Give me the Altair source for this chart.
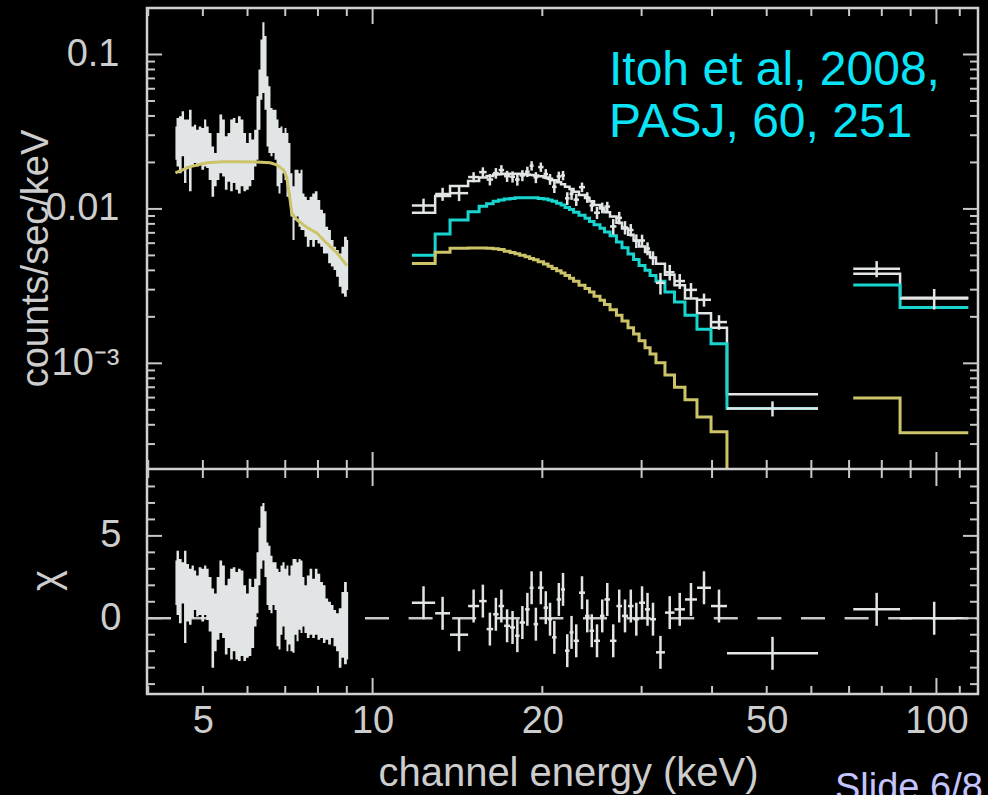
import altair as alt
import pandas as pd

# ---------------- data ----------------
# XIS spectrum (dense data band), keV / counts/sec/keV
xis_e = [4.47, 4.51, 4.56, 4.61, 4.65, 4.70, 4.75, 4.80, 4.84, 4.89,
         4.94, 5.00, 5.05, 5.09, 5.15, 5.21, 5.26, 5.32, 5.38, 5.44,
         5.50, 5.56, 5.62, 5.68, 5.74, 5.80, 5.87, 5.93, 6.00, 6.06,
         6.13, 6.20, 6.25, 6.30, 6.35, 6.40, 6.46, 6.51, 6.56, 6.62,
         6.67, 6.73, 6.78, 6.84, 6.89, 6.95, 7.01, 7.06, 7.12, 7.18,
         7.24, 7.30, 7.36, 7.42, 7.48, 7.54, 7.60, 7.69, 7.77, 7.86,
         7.94, 8.03, 8.12, 8.21, 8.29, 8.39, 8.48, 8.57, 8.66, 8.76,
         8.85, 8.95, 9.05]
xis_hi = [0.0342, 0.0388, 0.0398, 0.0429, 0.0379, 0.0379, 0.0439, 0.0342, 0.0351, 0.0326,
          0.0342, 0.0334, 0.0379, 0.0342, 0.0310, 0.0254, 0.0230, 0.0310, 0.0408, 0.0379,
          0.0295, 0.0310, 0.0379, 0.0388, 0.0360, 0.0398, 0.0379, 0.0310, 0.0267, 0.0310,
          0.0281, 0.0326, 0.0536, 0.080, 0.125, 0.162, 0.1315, 0.0723, 0.0622, 0.0451,
          0.0439, 0.0439, 0.0379, 0.0334, 0.0342, 0.0310, 0.0334, 0.0310, 0.0267, 0.0170,
          0.0140, 0.0179, 0.0179, 0.0170, 0.0179, 0.0126, 0.0120, 0.0114, 0.0120, 0.0126,
          0.0130, 0.0114, 0.00986, 0.00938, 0.00767, 0.00731, 0.00629, 0.00569, 0.00542, 0.00515,
          0.00569, 0.00661, 0.00629]
xis_lo = [0.0208, 0.0188, 0.0170, 0.0219, 0.0147, 0.0188, 0.0130, 0.0188, 0.0198, 0.0188,
          0.0193, 0.0179, 0.0188, 0.0184, 0.0154, 0.0120, 0.0140, 0.0154, 0.0170, 0.0162,
          0.0133, 0.0150, 0.0130, 0.0147, 0.0133, 0.0126, 0.0140, 0.0130, 0.0133, 0.0140,
          0.0154, 0.0188, 0.0208, 0.0326, 0.0510, 0.0564, 0.0439, 0.0254, 0.0230, 0.0219,
          0.0230, 0.0208, 0.0140, 0.0126, 0.0147, 0.0170, 0.0154, 0.0120, 0.0126, 0.00892,
          0.00629, 0.00849, 0.00892, 0.00767, 0.00731, 0.00731, 0.00661, 0.00569, 0.00629, 0.00569,
          0.00629, 0.00598, 0.00569, 0.00515, 0.00515, 0.00444, 0.00423, 0.00402, 0.00364, 0.00313,
          0.00283, 0.00270, 0.00298]
xis_chi_hi = [3.5, 4.1, 3.6, 3.4, 4.1, 3.3, 3.0, 3.2, 2.9, 2.6,
              3.1, 3.0, 3.2, 3.0, 2.5, 1.8, 1.5, 2.5, 3.5, 3.2,
              2.0, 2.4, 3.0, 3.1, 2.8, 3.0, 2.9, 2.0, 1.5, 2.4,
              1.9, 2.4, 4.0, 5.5, 6.8, 7.0, 6.5, 4.6, 4.4, 3.8,
              3.4, 3.4, 3.0, 2.8, 3.2, 3.4, 3.0, 3.2, 2.6, 3.2,
              3.6, 3.6, 3.4, 3.6, 3.5, 2.5, 2.0, 2.6, 3.0, 2.4,
              3.0, 2.7, 2.2, 2.0, 1.2, 1.0, 0.8, 0.5, 0.3, 0.6,
              1.6, 2.2, 1.6]
xis_chi_lo = [0.8, 0.2, -0.3, 0.9, -1.5, -0.2, -0.4, 0.0, 0.5, 0.1,
              0.2, -0.2, 0.2, -0.1, -0.8, -3.0, -2.0, -1.3, -0.9, -1.2,
              -2.2, -1.8, -2.5, -2.0, -2.5, -2.6, -2.3, -2.6, -2.4, -2.3,
              -1.8, -0.5, 0.3, 2.0, 3.0, 3.5, 2.5, 0.8, 0.5, 0.3,
              0.8, 0.5, -1.7, -1.9, -1.0, -0.5, -1.3, -2.0, -1.6, -2.0,
              -2.1, -1.0, -1.4, -0.7, -0.9, -0.5, -0.9, -1.2, -1.0, -1.2,
              -1.0, -1.3, -1.2, -1.5, -1.3, -1.6, -1.2, -1.7, -2.0, -3.0,
              -2.4, -2.8, -2.5]
xis_model_e = [4.47, 4.75, 5.09, 5.43, 5.82, 6.23, 6.58, 6.76, 6.95, 7.04,
               7.14, 7.19, 7.34, 7.64, 7.96, 8.29, 8.64, 9.00]
xis_model = [0.0171, 0.0188, 0.0199, 0.0202, 0.0202, 0.0201, 0.0199, 0.0193, 0.0179, 0.0161,
             0.0114, 0.0094, 0.0085, 0.0076, 0.0070, 0.0060, 0.0052, 0.0043]

# HXD-PIN bins (edges in keV)
pin_edges = [11.74, 12.91, 13.72, 14.77, 15.45, 15.93, 16.36, 16.73, 17.11, 17.53,
             17.89, 18.23, 18.64, 18.99, 19.30, 19.66, 20.10, 20.47, 20.81, 21.20,
             21.59, 21.94, 22.35, 22.72, 23.23, 23.81, 24.25, 24.70, 25.31, 25.78,
             26.37, 27.07, 27.69, 28.38, 29.03, 29.69, 30.42, 31.05, 31.81, 33.00,
             34.31, 35.81, 37.61, 39.83, 42.51, 61.66]
pin_cyan = [0.00502, 0.00689, 0.00849, 0.0096, 0.0104, 0.0108, 0.0112, 0.0114, 0.0116, 0.0117,
            0.0118, 0.0118, 0.0118, 0.0118, 0.0118, 0.0117, 0.0116, 0.0114, 0.0112, 0.0109,
            0.0106, 0.0102, 0.0099, 0.0095, 0.0091, 0.0087, 0.0083, 0.0079, 0.0075, 0.0071,
            0.0067, 0.0061, 0.0056, 0.0051, 0.0047, 0.0043, 0.0040, 0.0037, 0.0034, 0.0029,
            0.0025, 0.00205, 0.00166, 0.00134, 0.00051]
pin_yellow = [0.00443, 0.00524, 0.00556, 0.00558, 0.00558, 0.00556, 0.00552, 0.00545, 0.00532, 0.00522,
              0.00512, 0.00502, 0.00490, 0.00478, 0.00468, 0.00455, 0.00440, 0.00425, 0.00412, 0.00398,
              0.00385, 0.00370, 0.00355, 0.00340, 0.00320, 0.00305, 0.00290, 0.00272, 0.00256, 0.00240,
              0.00222, 0.00205, 0.00188, 0.00170, 0.00155, 0.00140, 0.00126, 0.00115, 0.00101, 0.00084,
              0.00070, 0.00058, 0.00045, 0.00036, 0.00012]
pin_data = [0.01052, 0.01249, 0.01265, 0.01608, 0.01731, 0.01549, 0.01704, 0.01785, 0.01630, 0.01616,
            0.01549, 0.01647, 0.01742, 0.01903, 0.01600, 0.01866, 0.01682, 0.01557, 0.01390, 0.01623,
            0.01647, 0.01171, 0.01252, 0.01148, 0.01383, 0.01188, 0.01052, 0.00945, 0.01017, 0.01036,
            0.0077, 0.00875, 0.00758, 0.0073, 0.00621, 0.00624, 0.00554, 0.00482, 0.00332, 0.00389,
            0.00341, 0.00299, 0.00258, 0.00185, 0.00051]
pin_err = [0.00113, 0.00121, 0.00141, 0.00121, 0.00128, 0.00131, 0.00134, 0.00135, 0.00135, 0.00135,
           0.00135, 0.00135, 0.00134, 0.00133, 0.00132, 0.0013, 0.00128, 0.00125, 0.00123, 0.00119,
           0.00116, 0.00111, 0.00108, 0.00103, 0.00098, 0.00094, 0.0009, 0.00085, 0.0008, 0.00076,
           0.00089, 0.00082, 0.00075, 0.00068, 0.00063, 0.00057, 0.00053, 0.00049, 0.00053, 0.00045,
           0.00038, 0.00032, 0.00025, 0.0002, 0.000057]
pin_chi = [0.94, 0.30, -1.00, 0.74, 1.04, -0.66, 0.24, 0.74, -0.46, -0.56,
           -1.06, -0.26, 0.54, 1.85, -0.36, 1.85, 0.64, -0.06, -1.16, 1.14,
           1.75, -1.97, -0.86, -1.37, 1.55, 0.14, -0.76, -1.37, 0.14, 1.14,
           -1.37, 0.74, 0.14, 0.74, -0.06, 0.94, 0.54, -0.06, -2.07, 0.34,
           0.54, 1.14, 1.85, 0.74, -2.13]

# HXD-GSO bins
gso_edges = [71.2, 86.2, 113.9]
gso_cyan = [0.00321, 0.00230]
gso_yellow = [0.000596, 0.000355]
gso_data = [0.0041, 0.00263]
gso_err = [0.00049, 0.00040]
gso_chi = [0.54, 0.0]

# axis ticks / labels
x_labels = [5, 10, 20, 50, 100]
x_major = [10, 100]
x_minor = [4, 5, 6, 7, 8, 9, 20, 30, 40, 50, 60, 70, 80, 90, 110]
y_top_labels = [0.1, 0.01, 0.001]
y_top_major = [0.001, 0.01, 0.1]
y_top_minor = [0.0003, 0.0004, 0.0005, 0.0006, 0.0007, 0.0008, 0.0009,
               0.002, 0.003, 0.004, 0.005, 0.006, 0.007, 0.008, 0.009,
               0.02, 0.03, 0.04, 0.05, 0.06, 0.07, 0.08, 0.09]
y_bot_labels = [0, 5]
y_bot_major = [0, 5]
y_bot_minor = [-4, -3, -2, -1, 1, 2, 3, 4, 6, 7, 8]

# ---------------- layout / style ----------------
W, H = 831, 686
TOP_H = 460
BOT_TOP = 462
YMIN, YMAX = 2.1e-4, 0.2
FONT = "Liberation Sans"
LBL = "#cdcdcd"
WHITE = "#e2e5e5"
CYAN = "#18d6cf"
YEL = "#cdc46a"
TICK = "#c8c8c8"
FRAME = "#d0d0d0"

xs = alt.Scale(type="log", domain=[3.98, 118.5], nice=False)
yt = alt.Scale(type="log", domain=[YMIN, YMAX], range=[TOP_H, 0], nice=False, clamp=True)
yb = alt.Scale(type="linear", domain=[-4.6, 9.0], range=[H, BOT_TOP], nice=False, zero=False)

x_axis = alt.Axis(orient="bottom", values=x_labels, format="d", ticks=False, domain=False,
                  grid=False, labelFontSize=38, labelFont=FONT, labelColor=LBL, labelPadding=8,
                  labelFlush=False, labelOverlap=False,
                  title="channel energy (keV)", titleFont=FONT, titleFontSize=40,
                  titleFontWeight="normal", titleColor=LBL, titleX=421, titleY=91,
                  titleAlign="center", titleBaseline="alphabetic")
y_top_axis = alt.Axis(orient="left", values=y_top_labels,
                      labelExpr="datum.value > 0.05 ? '0.1' : (datum.value > 0.005 ? '0.01' : '10⁻³')",
                      ticks=False, domain=False, grid=False, labelFontSize=38, labelFont=FONT,
                      labelColor=LBL, labelPadding=28, labelOverlap=False, labelFlush=False,
                      title="counts/sec/keV", titleFont=FONT, titleFontSize=38,
                      titleFontWeight="normal", titleColor=LBL, titleX=-111, titleY=250,
                      titleAngle=270, titleAlign="center", titleBaseline="middle")
y_bot_axis = alt.Axis(orient="left", values=y_bot_labels, ticks=False, domain=False, grid=False,
                      labelFontSize=38, labelFont=FONT, labelColor=LBL, labelPadding=26,
                      labelOverlap=False, labelFlush=False,
                      title="χ", titleFont=FONT, titleFontSize=40, titleFontWeight="normal",
                      titleColor=LBL, titleX=-101, titleY=572, titleAngle=270,
                      titleAlign="center", titleBaseline="middle")


def X(field):
    return alt.X(field, type="quantitative", scale=xs, axis=x_axis)


def YT(field):
    return alt.Y(field, type="quantitative", scale=yt, axis=y_top_axis)


def YB(field):
    return alt.Y(field, type="quantitative", scale=yb, axis=y_bot_axis)


# ---------------- tables ----------------
xis_df = pd.DataFrame(dict(E=xis_e, hi=xis_hi, lo=xis_lo, chi_hi=xis_chi_hi, chi_lo=xis_chi_lo))
xis_model_df = pd.DataFrame(dict(E=xis_model_e, v=xis_model))

pin_total = [c + y for c, y in zip(pin_cyan, pin_yellow)]
gso_total = [c + y for c, y in zip(gso_cyan, gso_yellow)]

rows = []


def add_steps(edges, vals, comp, grp, close=True):
    for i, v in enumerate(vals):
        rows.append(dict(E=edges[i], v=v, comp=comp, grp=grp))
    if close:
        rows.append(dict(E=edges[len(vals)], v=vals[-1], comp=comp, grp=grp))


add_steps(pin_edges, pin_total, "total", "pin")
add_steps(gso_edges, gso_total, "total", "gso")
add_steps(pin_edges, pin_cyan, "cyan", "pin")
add_steps(gso_edges, gso_cyan, "cyan", "gso")
add_steps(pin_edges, pin_yellow, "yellow", "pin", close=pin_yellow[-1] >= YMIN)
add_steps(gso_edges, gso_yellow, "yellow", "gso")
steps_df = pd.DataFrame(rows)

cross = pd.DataFrame(dict(
    lo=pin_edges[:-1] + gso_edges[:-1],
    hi=pin_edges[1:] + gso_edges[1:],
    d=pin_data + gso_data,
    err=pin_err + gso_err,
    chi=pin_chi + gso_chi,
))
cross["c"] = (cross["lo"] * cross["hi"]) ** 0.5
cross["d_lo"] = cross["d"] - cross["err"]
cross["d_hi"] = cross["d"] + cross["err"]
cross["chi_lo"] = cross["chi"] - 1
cross["chi_hi"] = cross["chi"] + 1

# ---------------- top panel ----------------
band_top = alt.Chart(xis_df).mark_area(interpolate="step", color=WHITE).encode(
    x=X("E"), y=YT("hi"), y2="lo:Q",
)


def step_layer(comp, color, width):
    return alt.Chart(steps_df).transform_filter(alt.datum.comp == comp).mark_line(
        interpolate="step-after", color=color, strokeWidth=width
    ).encode(x=X("E"), y=YT("v"), detail="grp:N")


xis_model_line = alt.Chart(xis_model_df).mark_line(color=YEL, strokeWidth=3).encode(
    x=X("E"), y=YT("v"),
)
top_h = alt.Chart(cross).mark_rule(color=WHITE, strokeWidth=2.5).encode(
    x=X("lo"), x2="hi:Q", y=YT("d"),
)
top_v = alt.Chart(cross).mark_rule(color=WHITE, strokeWidth=2.5).encode(
    x=X("c"), y=YT("d_lo"), y2="d_hi:Q",
)


def ytick_layer(vals, yenc, x0, x1):
    return alt.Chart(pd.DataFrame({"t": vals})).mark_rule(color=TICK, strokeWidth=2).encode(
        y=yenc("t"), x=alt.value(x0), x2=alt.value(x1),
    )


top_group = alt.layer(
    band_top,
    step_layer("total", WHITE, 2.5),
    step_layer("cyan", CYAN, 3),
    step_layer("yellow", YEL, 3),
    xis_model_line,
    top_h, top_v,
    ytick_layer(y_top_major, YT, 0, 15), ytick_layer(y_top_minor, YT, 0, 8),
    ytick_layer(y_top_major, YT, W, W - 15), ytick_layer(y_top_minor, YT, W, W - 8),
)

# ---------------- residual panel ----------------
zero_line = alt.Chart(pd.DataFrame({"z": [0.0]})).mark_rule(
    color=TICK, strokeWidth=2.5, strokeDash=[24, 19.6]
).encode(y=YB("z"), x=alt.value(0), x2=alt.value(W))
band_bot = alt.Chart(xis_df).mark_area(interpolate="step", color=WHITE).encode(
    x=X("E"), y=YB("chi_hi"), y2="chi_lo:Q",
)
bot_h = alt.Chart(cross).mark_rule(color=WHITE, strokeWidth=2.5).encode(
    x=X("lo"), x2="hi:Q", y=YB("chi"),
)
bot_v = alt.Chart(cross).mark_rule(color=WHITE, strokeWidth=2.5).encode(
    x=X("c"), y=YB("chi_lo"), y2="chi_hi:Q",
)
bot_group = alt.layer(
    zero_line, band_bot, bot_h, bot_v,
    ytick_layer(y_bot_major, YB, 0, 15), ytick_layer(y_bot_minor, YB, 0, 8),
    ytick_layer(y_bot_major, YB, W, W - 15), ytick_layer(y_bot_minor, YB, W, W - 8),
)

# ---------------- frame decorations ----------------


def xtick_layer(vals, y0, y1):
    return alt.Chart(pd.DataFrame({"t": vals})).mark_rule(color=TICK, strokeWidth=2).encode(
        x=X("t"), y=alt.value(y0), y2=alt.value(y1),
    )


deco = []
for y0, sgn in [(0, 1), (TOP_H, -1), (BOT_TOP, 1), (H, -1)]:
    deco.append(xtick_layer(x_minor, y0, y0 + sgn * 8))
    deco.append(xtick_layer(x_major, y0, y0 + sgn * 16))

divider = alt.Chart(pd.DataFrame({"k": [0]})).mark_rule(color=FRAME, strokeWidth=2.5).encode(
    x=alt.value(0), x2=alt.value(W), y=alt.value(461),
)
ref_text = alt.Chart(pd.DataFrame({"k": [0]})).mark_text(
    text=["Itoh et al, 2008,", "PASJ, 60, 251"], align="left", baseline="alphabetic",
    font=FONT, fontSize=48, lineHeight=52, color="#0ae4f6",
).encode(x=alt.value(462), y=alt.value(77))
slide_text = alt.Chart(pd.DataFrame({"k": [0]})).mark_text(
    text="Slide 6/8", align="left", baseline="alphabetic",
    font=FONT, fontSize=38, color="#c4c4ff",
).encode(x=alt.value(688), y=alt.value(792))

chart = alt.layer(
    top_group, bot_group, divider, *deco, ref_text, slide_text
).resolve_scale(y="independent").properties(
    width=W, height=H,
    padding={"left": 147, "top": 8, "right": 10, "bottom": 101},
    autosize=alt.AutoSizeParams(type="none"),
    background="black",
).configure_view(stroke=FRAME, strokeWidth=2.5, fill="black")

chart.save("out.html", embed_options={"renderer": "svg", "actions": False})
